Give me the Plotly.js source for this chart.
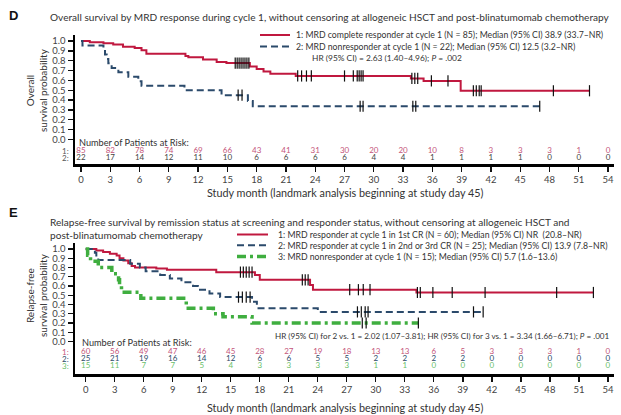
<!DOCTYPE html>
<html>
<head>
<meta charset="utf-8">
<script src="https://cdn.plot.ly/plotly-3.0.1.min.js"></script>
<style>
  html, body { margin: 0; padding: 0; background: #fff; }
  #chart { width: 621px; height: 415px; }
</style>
</head>
<body>
<div id="chart"></div>
<script>
// ---- Shared month ticks / risk table columns ----
const riskMonths = [0, 3, 6, 9, 12, 15, 18, 21, 24, 27, 30, 33, 36, 39, 42, 45, 48, 51, 54];

// ---- Panel D: overall survival by MRD response ----
const osRespTime = [0, 0.9, 2.3, 3.3, 4.3, 5.5, 6.2, 6.7, 10.7, 11.0, 12.5, 13.9, 14.9, 17.3, 18.0, 18.7, 19.4, 22.0, 33.8, 35.1, 38.9, 52.1];
const osRespSurv = [1.0, 0.988, 0.976, 0.965, 0.941, 0.929, 0.906, 0.871, 0.847, 0.835, 0.812, 0.788, 0.776, 0.74, 0.715, 0.69, 0.667, 0.645, 0.62, 0.595, 0.495, 0.495];
const osRespCensor = [15.8, 16.0, 16.2, 16.4, 16.6, 16.8, 17.0, 17.2, 22.2, 22.6, 23.1, 23.6, 27.0, 27.9, 28.3, 28.5, 28.7, 28.9, 33.9, 34.2, 34.5, 35.9, 37.6, 40.2, 40.5, 40.8, 41.0, 48.4, 52.1];

const osNonTime = [0, 0.15, 2.3, 2.46, 2.63, 2.8, 3.14, 3.83, 4.85, 5.87, 6.2, 10.6, 14.4, 17.1, 17.6, 47.0];
const osNonSurv = [1.0, 0.955, 0.909, 0.864, 0.818, 0.773, 0.727, 0.682, 0.636, 0.591, 0.545, 0.50, 0.45, 0.39, 0.3375, 0.3375];
const osNonCensor = [16.1, 16.5, 28.6, 28.9, 34.0, 34.3, 47.0];

const osRisk1 = [85, 82, 78, 74, 69, 66, 43, 41, 31, 30, 20, 20, 10, 8, 3, 3, 3, 1, 0];
const osRisk2 = [22, 17, 14, 12, 11, 10, 6, 6, 6, 6, 4, 4, 1, 1, 1, 1, 0, 0, 0];

// ---- Panel E: relapse-free survival by remission status ----
const rfsCr1Time = [0, 1.1, 1.8, 2.5, 3.2, 3.5, 3.9, 4.4, 4.75, 5.1, 7.3, 8.4, 13.5, 17.5, 18.0, 23.2, 23.5, 34.2, 52.5];
const rfsCr1Surv = [1.0, 0.983, 0.967, 0.95, 0.93, 0.90, 0.875, 0.846, 0.817, 0.80, 0.79, 0.775, 0.75, 0.72, 0.667, 0.61, 0.56, 0.53, 0.53];
const rfsCr1Censor = [16.0, 16.3, 16.6, 16.9, 17.2, 22.4, 22.7, 23.0, 27.3, 28.2, 28.7, 29.4, 34.3, 34.6, 35.9, 37.9, 41.3, 48.7, 52.5];

const rfsCr23Time = [0, 0.95, 1.1, 1.3, 4.6, 5.6, 6.2, 7.7, 8.7, 9.9, 11.1, 11.6, 12.8, 13.9, 17.2, 17.7, 24.0, 41.1];
const rfsCr23Surv = [1.0, 0.96, 0.92, 0.88, 0.84, 0.80, 0.76, 0.72, 0.68, 0.64, 0.60, 0.56, 0.52, 0.48, 0.43, 0.36, 0.32, 0.32];
const rfsCr23Censor = [15.8, 16.2, 16.6, 17.0, 28.1, 28.5, 28.9, 29.2, 40.1, 41.1];

const rfsNonTime = [0, 0.2, 0.5, 1.3, 2.7, 3.4, 3.5, 3.7, 5.7, 10.4, 13.2, 14.2, 17.2, 34.4];
const rfsNonSurv = [1.0, 0.933, 0.867, 0.80, 0.733, 0.667, 0.60, 0.533, 0.467, 0.36, 0.30, 0.267, 0.20, 0.20];
const rfsNonCensor = [28.6, 29.0, 34.4];

const rfsRisk1 = [60, 56, 49, 47, 46, 45, 28, 27, 19, 18, 13, 13, 6, 5, 3, 3, 3, 1, 0];
const rfsRisk2 = [25, 21, 19, 16, 14, 12, 6, 6, 5, 5, 2, 2, 2, 2, 0, 0, 0, 0, 0];
const rfsRisk3 = [15, 11, 7, 7, 5, 4, 3, 3, 3, 3, 1, 1, 0, 0, 0, 0, 0, 0, 0];

// ---- Styling ----
const FONT = "Lato, 'Noto Sans', sans-serif";
const TXT = '#333';
const RED = '#c0183f';
const BLUE = '#2b4a6b';
const GREEN = '#3fae3f';
const RISK_RED = '#c4557a';
const RISK_BLUE = '#2d4a6a';
const RISK_GREEN = '#6bbf6b';
const RISK_SIZE = 8;

const W = 621, H = 415;
const px = x => x / W;
const py = y => 1 - y / H;

// survival value of a step curve at time t
function stepAt(times, surv, t) {
  let v = surv[0];
  for (let i = 0; i < times.length; i++) if (times[i] <= t) v = surv[i];
  return v;
}

function curve(times, surv, color, dash, width, xa, ya) {
  return {
    x: times, y: surv, type: 'scatter', mode: 'lines',
    line: { shape: 'hv', color: color, dash: dash, width: width },
    xaxis: xa, yaxis: ya, hoverinfo: 'skip'
  };
}
function censor(cens, times, surv, xa, ya) {
  return {
    x: cens, y: cens.map(t => stepAt(times, surv, t)), type: 'scatter', mode: 'markers',
    marker: { symbol: 'line-ns-open', size: 8, color: '#111', line: { width: 1.2, color: '#111' } },
    xaxis: xa, yaxis: ya, hoverinfo: 'skip', cliponaxis: false
  };
}
function riskRow(vals, yPos, color, xa, ya) {
  return {
    x: riskMonths, y: vals.map(() => yPos), text: vals.map(String), type: 'scatter', mode: 'text',
    textfont: { family: FONT, size: RISK_SIZE, color: color }, textposition: 'middle center',
    xaxis: xa, yaxis: ya, hoverinfo: 'skip', cliponaxis: false
  };
}

const traces = [
  curve(osRespTime, osRespSurv, RED, 'solid', 2, 'x', 'y'),
  curve(osNonTime, osNonSurv, BLUE, '7px,4px', 2, 'x', 'y'),
  censor(osRespCensor, osRespTime, osRespSurv, 'x', 'y'),
  censor(osNonCensor, osNonTime, osNonSurv, 'x', 'y'),
  riskRow(osRisk1, -0.114, RISK_RED, 'x', 'y'),
  riskRow(osRisk2, -0.188, '#444', 'x', 'y'),

  curve(rfsCr1Time, rfsCr1Surv, RED, 'solid', 2, 'x2', 'y2'),
  curve(rfsCr23Time, rfsCr23Surv, BLUE, '7px,4px', 2, 'x2', 'y2'),
  curve(rfsNonTime, rfsNonSurv, GREEN, '9px,4px,3px,4px', 3.5, 'x2', 'y2'),
  censor(rfsCr1Censor, rfsCr1Time, rfsCr1Surv, 'x2', 'y2'),
  censor(rfsCr23Censor, rfsCr23Time, rfsCr23Surv, 'x2', 'y2'),
  censor(rfsNonCensor, rfsNonTime, rfsNonSurv, 'x2', 'y2'),
  riskRow(rfsRisk1, -0.11, RISK_RED, 'x2', 'y2'),
  riskRow(rfsRisk2, -0.19, RISK_BLUE, 'x2', 'y2'),
  riskRow(rfsRisk3, -0.268, RISK_GREEN, 'x2', 'y2')
];

const yTicks = [0, 0.1, 0.2, 0.3, 0.4, 0.5, 0.6, 0.7, 0.8, 0.9, 1.0];

function xAxis(range, anchor) {
  return {
    domain: [px(75), px(614)], range: range, anchor: anchor,
    tickvals: riskMonths, ticktext: riskMonths.map(String),
    ticks: 'outside', ticklen: 5, tickwidth: 1.3, tickcolor: '#111',
    showline: true, linewidth: 3, linecolor: '#000',
    showgrid: false, zeroline: false,
    tickfont: { family: FONT, size: 9.5, color: '#444' }
  };
}
function yAxis(domain, range, anchor) {
  return {
    domain: domain, range: range, anchor: anchor,
    tickvals: yTicks, ticktext: yTicks.map(v => v.toFixed(1)),
    ticks: 'outside', ticklen: 5, tickwidth: 1.3, tickcolor: '#111',
    showline: true, linewidth: 2.5, linecolor: '#000',
    showgrid: false, zeroline: false,
    tickfont: { family: FONT, size: 9.5, color: '#444' }
  };
}

function ann(text, x, y, o) {
  return Object.assign({
    text: text, x: px(x), y: py(y), xref: 'paper', yref: 'paper',
    xanchor: 'left', yanchor: 'middle', showarrow: false, align: 'left',
    font: { family: FONT, size: 8.7, color: TXT }
  }, o || {});
}
function sample(x0, x1, y, color, dash, width) {
  return {
    type: 'line', xref: 'paper', yref: 'paper',
    x0: px(x0), x1: px(x1), y0: py(y), y1: py(y),
    line: { color: color, dash: dash, width: width }
  };
}

const TITLE_FONT = { family: FONT, size: 10.1, color: TXT };
const AXIS_TITLE_FONT = { family: FONT, size: 10.8, color: TXT };
const RISK_HEAD_FONT = { family: FONT, size: 9.2, color: TXT };

const annotations = [
  // Panel D
  ann('<b>D</b>', 7, 16, { font: { family: 'Liberation Sans, Arial, sans-serif', size: 13, color: '#111' } }),
  ann('Overall survival by MRD response during cycle 1, without censoring at allogeneic HSCT and post-blinatumomab chemotherapy', 48, 17, { font: TITLE_FONT }),
  ann('1: MRD complete responder at cycle 1 (N = 85); Median (95% CI) 38.9 (33.7–NR)', 294, 35),
  ann('2: MRD nonresponder at cycle 1 (N = 22); Median (95% CI) 12.5 (3.2–NR)', 294, 46.5),
  ann('HR (95% CI) = 2.63 (1.40–4.96); <i>P</i> = .002', 310, 58, { font: { family: FONT, size: 8.4, color: TXT } }),
  ann('Overall<br>survival probability', 36, 90, { xanchor: 'center', align: 'center', textangle: -90, font: { family: FONT, size: 10, color: TXT } }),
  ann('Number of Patients at Risk:', 77, 142, { font: RISK_HEAD_FONT }),
  ann('1:', 71, 150.7, { xanchor: 'right', font: { family: FONT, size: RISK_SIZE, color: '#555' } }),
  ann('2:', 71, 158, { xanchor: 'right', font: { family: FONT, size: RISK_SIZE, color: '#555' } }),
  ann('Study month (landmark analysis beginning at study day 45)', 344.5, 192, { xanchor: 'center', font: AXIS_TITLE_FONT }),

  // Panel E
  ann('<b>E</b>', 7, 212, { font: { family: 'Liberation Sans, Arial, sans-serif', size: 13, color: '#111' } }),
  ann('Relapse-free survival by remission status at screening and responder status, without censoring at allogeneic HSCT and<br>post-blinatumomab chemotherapy', 48, 228.5, { font: TITLE_FONT }),
  ann('1: MRD responder at cycle 1 in 1st CR (N = 60); Median (95% CI) NR  (20.8–NR)', 276, 234.5),
  ann('2: MRD responder at cycle 1 in 2nd or 3rd CR (N = 25); Median (95% CI) 13.9 (7.8–NR)', 276, 245.3),
  ann('3: MRD nonresponder at cycle 1 (N = 15); Median (95% CI) 5.7 (1.6–13.6)', 276, 256.5),
  ann('HR (95% CI) for 2 vs. 1 = 2.02 (1.07–3.81); HR (95% CI) for 3 vs. 1 = 3.34 (1.66–6.71); <i>P</i> = .001', 612, 335.5, { xanchor: 'right', font: { family: FONT, size: 8.1, color: TXT } }),
  ann('Relapse-free<br>survival probability', 36, 295, { xanchor: 'center', align: 'center', textangle: -90, font: { family: FONT, size: 10, color: TXT } }),
  ann('Number of Patients at Risk:', 80, 342.3, { font: RISK_HEAD_FONT }),
  ann('1:', 71, 351.7, { xanchor: 'right', font: { family: FONT, size: RISK_SIZE, color: RISK_RED } }),
  ann('2:', 71, 359, { xanchor: 'right', font: { family: FONT, size: RISK_SIZE, color: RISK_BLUE } }),
  ann('3:', 71, 366.3, { xanchor: 'right', font: { family: FONT, size: RISK_SIZE, color: RISK_GREEN } }),
  ann('Study month (landmark analysis beginning at study day 45)', 344.5, 407, { xanchor: 'center', font: AXIS_TITLE_FONT })
];

const shapes = [
  sample(260, 290, 35, RED, 'solid', 2),
  sample(260, 290, 46.5, BLUE, '7px,4px', 2),
  sample(237, 268, 234.5, RED, 'solid', 2),
  sample(237, 268, 245.3, BLUE, '7px,4px', 2),
  sample(237, 268, 256.5, GREEN, '9px,4px,3px,4px', 3.5)
];

const layout = {
  width: W, height: H,
  margin: { l: 0, r: 0, t: 0, b: 0, pad: 0 },
  paper_bgcolor: '#fff', plot_bgcolor: '#fff',
  showlegend: false,
  font: { family: FONT, color: TXT },
  xaxis: xAxis([-0.615, 54.61], 'y'),
  yaxis: yAxis([py(164), py(35)], [-0.2487, 1.061], 'x'),
  xaxis2: xAxis([-1.107, 54.63], 'y2'),
  yaxis2: yAxis([py(373.5), py(243)], [-0.346, 1.065], 'x2'),
  annotations: annotations,
  shapes: shapes
};

Plotly.newPlot('chart', traces, layout, { staticPlot: true, displayModeBar: false });
</script>
</body>
</html>
